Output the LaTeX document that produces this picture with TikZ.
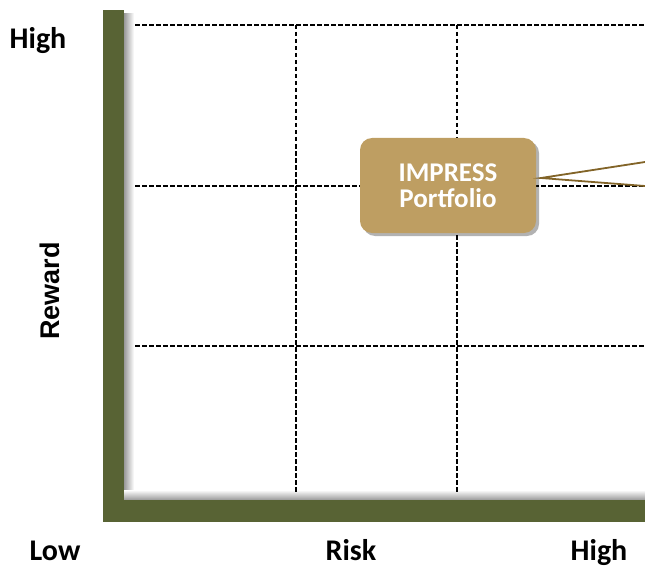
\documentclass[tikz,border=0pt]{standalone}
\usepackage{fontspec}
\setmainfont{Carlito}
\newfontfamily\arialb{Liberation Sans}
\usetikzlibrary{shadows}
\definecolor{olive}{RGB}{88,99,52}
\definecolor{tan}{RGB}{190,158,98}
\definecolor{wedge}{RGB}{130,100,40}
\tikzset{
  grid/.style={black, line width=1.1pt, dash pattern=on 4.5pt off 2.5pt},
  axislabel/.style={font=\bfseries\fontsize{30}{34}\selectfont, text=black, inner sep=0pt, anchor=base},
  callout/.style={fill=tan, rounded corners=12pt, text=white, align=center,
    font=\bfseries\fontsize{27}{30}\selectfont, minimum width=176pt, minimum height=95pt,
    drop shadow={shadow xshift=3pt, shadow yshift=-3pt, opacity=0.3, fill=black}},
}
\begin{document}
\begin{tikzpicture}[x=1pt,y=-1pt]
\useasboundingbox (0,0) rectangle (645,567);
% axis shadows
\shade[left color=black!40, right color=white] (124,14) rectangle (134,500);
\shade[top color=white, bottom color=black!40] (124,490) rectangle (645,500);
% grid
\foreach \yy in {25,186,346} \draw[grid] (135,\yy) -- (645,\yy);
\foreach \xx in {296,457} \draw[grid] (\xx,25) -- (\xx,492);
% axes
\fill[olive] (103,10) rectangle (124,522);
\fill[olive] (103,500) rectangle (645,522);
% callout
\node[callout] (box) at (448,185.5) {IMPRESS\\[-4pt]Portfolio};
\coordinate (tip) at (541,178);
\coordinate (w1) at (645,162);
\coordinate (w2) at (645,186);
\draw[wedge, line width=1.8pt] (w1) -- (tip) -- (w2);
% labels
\node[axislabel] (hi1) at (38,49) {High};
\node[axislabel] (low) at (55,560) {Low};
\node[axislabel] (risk) at (351,560) {Risk};
\node[axislabel] (hi2) at (599,560) {High};
\node[axislabel, anchor=center, font=\arialb\bfseries\fontsize{27}{30}\selectfont, rotate=90] (rew) at (50,291) {Reward};
\end{tikzpicture}
\end{document}
